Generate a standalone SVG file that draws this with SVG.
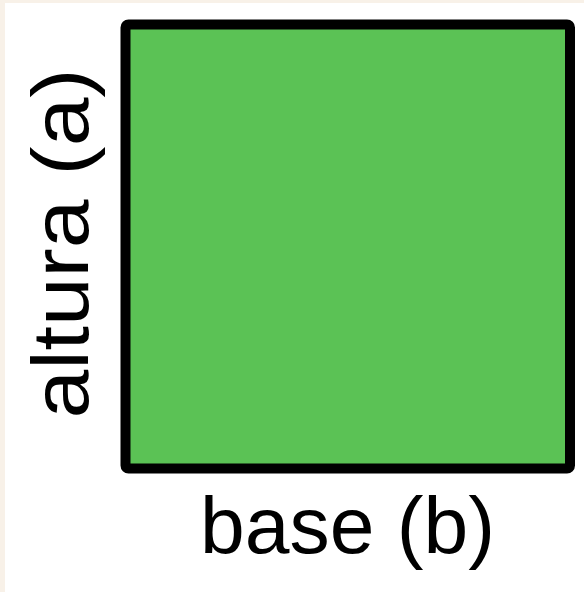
<svg xmlns="http://www.w3.org/2000/svg" width="584" height="592" viewBox="0 0 584 592">
  <style>
    .lbl { font-family: "Liberation Sans", "DejaVu Sans", sans-serif; font-size: 79px; fill: #000; }
  </style>
  <rect x="0" y="0" width="584" height="592" fill="#F8F1E8"/>
  <rect x="5" y="3" width="579" height="589" fill="#FFFFFF"/>
  <g id="square">
    <rect x="125.5" y="24.5" width="444.5" height="444" rx="3" fill="#5BC255" stroke="#000" stroke-width="10"/>
  </g>
  <g id="label-altura">
    <text class="lbl" transform="translate(88,243.5) rotate(-90)" text-anchor="middle" textLength="350" lengthAdjust="spacingAndGlyphs">altura (a)</text>
  </g>
  <g id="label-base">
    <text class="lbl" x="347.5" y="553" text-anchor="middle" textLength="295" lengthAdjust="spacingAndGlyphs">base (b)</text>
  </g>
  <g id="connectors"/>
</svg>
